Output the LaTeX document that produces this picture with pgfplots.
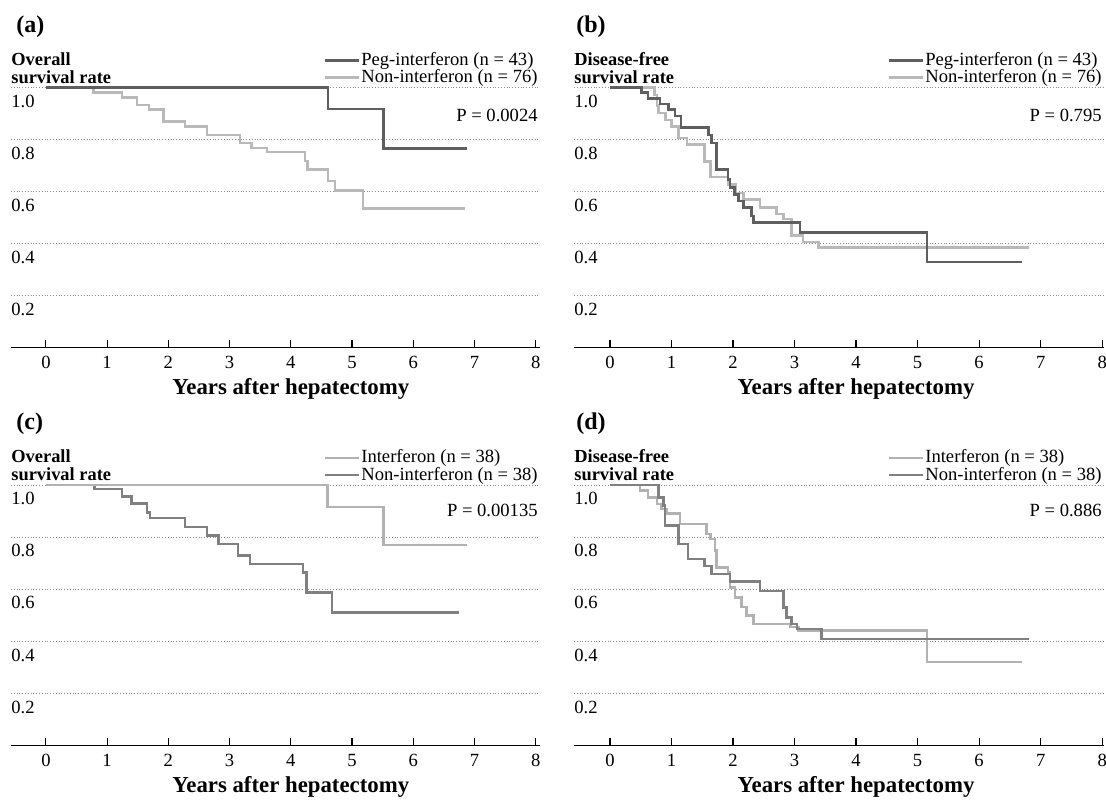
\documentclass[border=0pt]{standalone}
\usepackage{fontspec}
\setmainfont{Liberation Serif}
\usepackage{pgfplots}
\pgfplotsset{compat=1.18}
\definecolor{cdark}{RGB}{95,95,95}
\definecolor{clight}{RGB}{185,185,185}
\definecolor{cmid}{RGB}{128,128,128}
\definecolor{cifn}{RGB}{178,178,178}
\definecolor{cgrid}{RGB}{140,140,140}
\newcommand\fs{\fontsize{9.3}{10}\selectfont}
\newcommand\fb{\bfseries\fontsize{9.2}{10}\selectfont}
\newcommand\fx{\bfseries\fontsize{11.4}{13}\selectfont}
\newcommand\fp{\bfseries\fontsize{12}{14}\selectfont}
\pgfplotsset{
  km/.style={
    scale only axis,
    anchor=south west,
    ymin=0, ymax=1,
    clip=false,
    axis x line=bottom,
    axis y line=left,
    x axis line style={-, black, line width=0.9pt},
    y axis line style={draw=none},
    xtick={0,...,8},
    xticklabels={0,1,2,3,4,5,6,7,8},
    ytick={0.2,0.4,0.6,0.8,1.0},
    yticklabels={0.2,0.4,0.6,0.8,1.0},
    tick align=inside,
    major tick length=4pt,
    xtick style={black, line width=0.6pt},
    ytick style={draw=none},
    ymajorgrids,
    major grid style={cgrid, densely dotted, line width=0.5pt},
    tick label style={font=\fs},
    yticklabel style={anchor=north west, inner sep=0pt, yshift=-3.5pt},
    xticklabel style={inner sep=0pt, yshift=-4pt},
    legend style={at={(rel axis cs:1,1)}, anchor=south east, draw=none, fill=none,
      font=\fs, inner sep=0pt, row sep=-0.7pt, nodes={inner sep=0.6pt},
      yshift=0.2pt, xshift=-0.4pt},
    legend cell align=left,
    legend image code/.code={\draw[#1, line width=1.3pt] (0pt,0pt) -- (17pt,0pt);},
  },
  kml/.style={const plot, line width=1.25pt, mark=none},
}
\begin{document}
\begin{tikzpicture}
\path[use as bounding box] (0,0) rectangle (553pt,399.5pt);

% ---------------- (a)
\node[anchor=west, font=\fp, inner sep=0pt] at (8pt,386pt) {(a)};
\begin{axis}[km, at={(5.5pt,225.75pt)}, width=264.5pt, height=130pt, xmin=-0.57, xmax=8.07, reverse legend]
\addplot[kml, clight] coordinates {(0,1) (0.78,0.98) (1.24,0.962) (1.49,0.933) (1.68,0.916) (1.92,0.869) (2.27,0.850) (2.63,0.818) (3.17,0.787) (3.36,0.768) (3.61,0.751) (4.23,0.717) (4.27,0.685) (4.61,0.641) (4.72,0.603) (5.18,0.535) (6.85,0.535)};
\addlegendentry{Non-interferon (n = 76)}
\addplot[kml, cdark] coordinates {(0,1) (4.61,0.917) (5.51,0.765) (6.87,0.765)};
\addlegendentry{Peg-interferon (n = 43)}
\node[anchor=west, font=\fb, inner sep=0pt, yshift=14.25pt] at (rel axis cs:0,1) {Overall};
\node[anchor=west, font=\fb, inner sep=0pt, yshift=5.25pt] at (rel axis cs:0,1) {survival rate};
\node[anchor=east, font=\fs, inner sep=0pt, xshift=-1pt, yshift=-13.75pt] at (rel axis cs:1,1) {P = 0.0024};
\node[font=\fx, inner sep=0pt, yshift=-20.6pt] at (axis cs:4,0) {Years after hepatectomy};
\end{axis}

% ---------------- (b)
\node[anchor=west, font=\fp, inner sep=0pt] at (288pt,386pt) {(b)};
\begin{axis}[km, at={(287pt,225.75pt)}, width=265pt, height=130pt, xmin=-0.585, xmax=8.03, reverse legend]
\addplot[kml, clight] coordinates {(0,1) (0.72,0.971) (0.76,0.93) (0.79,0.901) (0.90,0.875) (1.00,0.85) (1.11,0.805) (1.25,0.78) (1.54,0.716) (1.63,0.655) (1.92,0.627) (2.05,0.595) (2.17,0.570) (2.44,0.538) (2.71,0.513) (2.82,0.494) (2.95,0.430) (3.14,0.405) (3.39,0.385) (6.81,0.385)};
\addlegendentry{Non-interferon (n = 76)}
\addplot[kml, cdark] coordinates {(0,1) (0.51,0.980) (0.62,0.958) (0.81,0.936) (0.95,0.916) (1.06,0.891) (1.15,0.847) (1.60,0.818) (1.65,0.786) (1.73,0.684) (1.92,0.646) (1.95,0.615) (2.02,0.589) (2.09,0.564) (2.17,0.538) (2.30,0.506) (2.33,0.481) (3.09,0.443) (5.15,0.328) (6.70,0.328)};
\addlegendentry{Peg-interferon (n = 43)}
\node[anchor=west, font=\fb, inner sep=0pt, yshift=14.25pt] at (rel axis cs:0,1) {Disease-free};
\node[anchor=west, font=\fb, inner sep=0pt, yshift=5.25pt] at (rel axis cs:0,1) {survival rate};
\node[anchor=east, font=\fs, inner sep=0pt, xshift=-1pt, yshift=-13.75pt] at (rel axis cs:1,1) {P = 0.795};
\node[font=\fx, inner sep=0pt, yshift=-20.6pt] at (axis cs:4,0) {Years after hepatectomy};
\end{axis}

% ---------------- (c)
\node[anchor=west, font=\fp, inner sep=0pt] at (8pt,187.5pt) {(c)};
\begin{axis}[km, at={(5.5pt,26.75pt)}, width=264.5pt, height=130.25pt, xmin=-0.57, xmax=8.07, reverse legend]
\addplot[kml, cmid] coordinates {(0,1) (0.79,0.985) (1.24,0.955) (1.40,0.929) (1.65,0.894) (1.70,0.874) (2.27,0.839) (2.63,0.806) (2.82,0.774) (3.14,0.729) (3.33,0.697) (4.20,0.665) (4.26,0.587) (4.67,0.510) (6.75,0.510)};
\addlegendentry{Non-interferon (n = 38)}
\addplot[kml, cifn] coordinates {(0,1) (4.60,0.916) (5.51,0.770) (6.87,0.770)};
\addlegendentry{Interferon (n = 38)}
\node[anchor=west, font=\fb, inner sep=0pt, yshift=14.25pt] at (rel axis cs:0,1) {Overall};
\node[anchor=west, font=\fb, inner sep=0pt, yshift=5.25pt] at (rel axis cs:0,1) {survival rate};
\node[anchor=east, font=\fs, inner sep=0pt, xshift=-1pt, yshift=-12.5pt] at (rel axis cs:1,1) {P = 0.00135};
\node[font=\fx, inner sep=0pt, yshift=-20.6pt] at (axis cs:4,0) {Years after hepatectomy};
\end{axis}

% ---------------- (d)
\node[anchor=west, font=\fp, inner sep=0pt] at (288pt,187.5pt) {(d)};
\begin{axis}[km, at={(287pt,26.75pt)}, width=265pt, height=130.25pt, xmin=-0.585, xmax=8.03]
\addplot[kml, cifn] coordinates {(0,1) (0.49,0.978) (0.62,0.953) (0.76,0.927) (0.84,0.908) (0.92,0.89) (1.14,0.850) (1.57,0.812) (1.63,0.793) (1.71,0.748) (1.73,0.684) (1.92,0.665) (1.95,0.607) (2.03,0.569) (2.14,0.531) (2.22,0.499) (2.33,0.467) (2.93,0.454) (3.06,0.441) (5.15,0.320) (6.70,0.320)};
\addlegendentry{Interferon (n = 38)}
\addplot[kml, cmid] coordinates {(0,1) (0.79,0.953) (0.87,0.921) (0.89,0.844) (1.11,0.774) (1.27,0.716) (1.54,0.690) (1.65,0.659) (1.95,0.629) (2.44,0.594) (2.82,0.530) (2.87,0.492) (2.95,0.466) (3.04,0.447) (3.44,0.409) (6.81,0.409)};
\addlegendentry{Non-interferon (n = 38)}
\node[anchor=west, font=\fb, inner sep=0pt, yshift=14.25pt] at (rel axis cs:0,1) {Disease-free};
\node[anchor=west, font=\fb, inner sep=0pt, yshift=5.25pt] at (rel axis cs:0,1) {survival rate};
\node[anchor=east, font=\fs, inner sep=0pt, xshift=-1pt, yshift=-12.5pt] at (rel axis cs:1,1) {P = 0.886};
\node[font=\fx, inner sep=0pt, yshift=-20.6pt] at (axis cs:4,0) {Years after hepatectomy};
\end{axis}
\end{tikzpicture}
\end{document}
